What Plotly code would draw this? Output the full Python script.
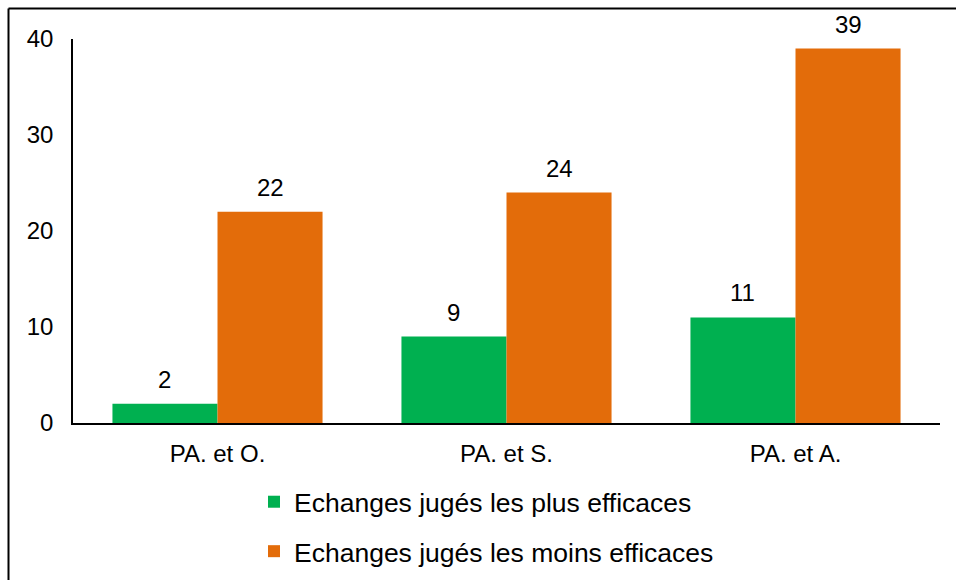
import plotly.graph_objects as go

# Données
categories = ["PA. et O.", "PA. et S.", "PA. et A."]
plus_efficaces = [2, 9, 11]
moins_efficaces = [22, 24, 39]
series_names = ["Echanges jugés les plus efficaces", "Echanges jugés les moins efficaces"]
y_ticks = [0, 10, 20, 30, 40]

GREEN = "#00B050"
ORANGE = "#E36C0A"
FONT = "Liberation Sans, Arial, sans-serif"

W, H = 956, 580
L, R, T, B = 73, 16, 39, 157
plot_w = W - L - R
plot_h = H - T - B

fig = go.Figure()
fig.add_trace(go.Bar(name=series_names[0], x=categories, y=plus_efficaces,
                     marker=dict(color=GREEN, line=dict(width=0)),
                     legendgroup="g1"))
fig.add_trace(go.Bar(name=series_names[1], x=categories, y=moins_efficaces,
                     marker=dict(color=ORANGE, line=dict(width=0)),
                     legendgroup="g2"))

# Étiquettes de valeurs au-dessus des barres
bar_px = plot_w / len(categories) * (1 - 0.273) / 2
for vals, sign in ((plus_efficaces, -1), (moins_efficaces, 1)):
    for c, v in zip(categories, vals):
        fig.add_annotation(x=c, y=v, text=str(v), showarrow=False,
                           xshift=sign * bar_px / 2, yanchor="bottom", yshift=9,
                           font=dict(family=FONT, size=24, color="#000000"))

# Cadre extérieur (bords gauche et haut visibles)
px_x = lambda px: (px - L) / plot_w
px_y = lambda py: (H - B - py) / plot_h
for x0, y0, x1, y1 in ((8.5, 8.5, W + 20, 8.5), (8.5, 8.5, 8.5, H + 20)):
    fig.add_shape(type="line", xref="paper", yref="paper",
                  x0=px_x(x0), y0=px_y(y0), x1=px_x(x1), y1=px_y(y1),
                  line=dict(color="#000000", width=2), layer="below")

fig.update_layout(
    width=W, height=H,
    margin=dict(l=L, r=R, t=T, b=B, pad=0, autoexpand=False),
    paper_bgcolor="white", plot_bgcolor="white",
    barmode="group", bargap=0.273, bargroupgap=0,
    font=dict(family=FONT, size=24, color="#000000"),
    showlegend=True,
    legend=dict(x=254 / W, y=1 - 478 / H, xanchor="left", yanchor="top",
                xref="container", yref="container",
                font=dict(family=FONT, size=26.5, color="#000000"),
                tracegroupgap=12, bgcolor="rgba(0,0,0,0)", itemclick=False),
    xaxis=dict(showline=True, linecolor="#000000", linewidth=1.5, ticks="",
               showgrid=False, ticklabelstandoff=8, zeroline=False),
    yaxis=dict(range=[0, 40], tickvals=y_ticks, showline=True, linecolor="#000000",
               linewidth=1.5, ticks="", showgrid=False, zeroline=False,
               ticklabelstandoff=13),
)

fig.write_html("out.html")
